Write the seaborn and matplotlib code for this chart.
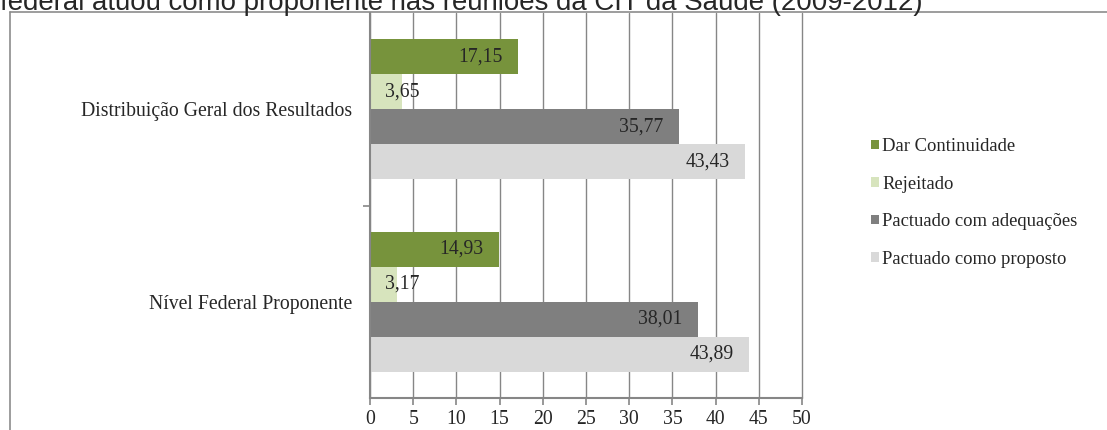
import pandas as pd
import matplotlib.pyplot as plt
import seaborn as sns
from matplotlib.lines import Line2D

# dados (%)
categorias = ["Distribuição Geral dos Resultados", "Nível Federal Proponente"]
situacoes = ["Dar Continuidade", "Rejeitado", "Pactuado com adequações", "Pactuado como proposto"]
dar_continuidade = [17.15, 14.93]
rejeitado = [3.65, 3.17]
pactuado_adequacoes = [35.77, 38.01]
pactuado_proposto = [43.43, 43.89]
cores = ["#77933C", "#D7E4BD", "#7F7F7F", "#D9D9D9"]
x_ticks = [0, 5, 10, 15, 20, 25, 30, 35, 40, 45, 50]

titulo = "federal atuou como proponente nas reuniões da CIT da Saúde (2009-2012)"

rows = []
for serie, nome in zip([dar_continuidade, rejeitado, pactuado_adequacoes, pactuado_proposto], situacoes):
    for cat, v in zip(categorias, serie):
        rows.append({"categoria": cat, "situacao": nome, "valor": v})
df = pd.DataFrame(rows)

sns.set_style("white")
plt.rcParams['font.family'] = ['Liberation Serif', 'DejaVu Serif']
FS = 14.2

W, H = 1107, 430
fig = plt.figure(figsize=(W / 100, H / 100), dpi=100)
ax = fig.add_axes([370 / W, 1 - 398 / H, (802 - 370) / W, (398 - 13) / H])

sns.barplot(data=df, y="categoria", x="valor", hue="situacao",
            order=categorias, hue_order=situacoes, palette=cores,
            saturation=1, width=0.725, orient="h", errorbar=None,
            linewidth=0, ax=ax)

ax.set_xlim(0, 50)
ax.set_ylim(1.5, -0.5)
ax.set_xticks(x_ticks)
ax.set_xticklabels([str(t) for t in x_ticks])
ax.set_xlabel("")
ax.set_ylabel("")
ax.set_axisbelow(True)
ax.grid(axis="x", color="#868686", linewidth=1.0)
ax.grid(axis="y", visible=False)
for gl in ax.get_xgridlines():
    gl.set_clip_on(False)

for s in ["top", "right"]:
    ax.spines[s].set_visible(False)
for s in ["left", "bottom"]:
    ax.spines[s].set_color("#868686")
    ax.spines[s].set_linewidth(1.5)

ax.tick_params(axis="x", length=5, width=1.2, color="#868686", pad=4, labelsize=FS, direction="out", bottom=True)
ax.tick_params(axis="y", which="major", length=0, pad=13, labelsize=FS, left=True)
ax.set_yticks([0.5], minor=True)
ax.tick_params(axis="y", which="minor", length=5, width=1.2, color="#868686", left=True)

# rótulos de dados
for cont in ax.containers:
    for bar in cont:
        v = bar.get_width()
        yc = bar.get_y() + bar.get_height() / 2
        txt = f"{v:.2f}".replace(".", ",")
        if v < 6:
            ax.text(1.75, yc, txt, ha="left", va="center", fontsize=FS)
        else:
            ax.text(v - 1.8, yc, txt, ha="right", va="center", fontsize=FS)

handles, labels = ax.get_legend_handles_labels()
ax.get_legend().remove()
fig.legend(handles, labels, loc="center left", bbox_to_anchor=(854 / W, 1 - 203 / H),
           frameon=False, fontsize=13.4, handlelength=0.42, handleheight=0.42,
           handletextpad=0.2, labelspacing=1.1)

# moldura e título recortados
fig.add_artist(Line2D([10 / W, 10 / W], [0, 1 - 12 / H], color="#8c8c8c", linewidth=1.2))
fig.add_artist(Line2D([10 / W, 1], [1 - 12 / H, 1 - 12 / H], color="#8c8c8c", linewidth=1.2))
fig.text(0, 1 - 10 / H, titulo, ha="left", va="baseline", fontsize=19.9,
         family=["Liberation Sans", "DejaVu Sans"])

fig.savefig("out.png", dpi=100)
